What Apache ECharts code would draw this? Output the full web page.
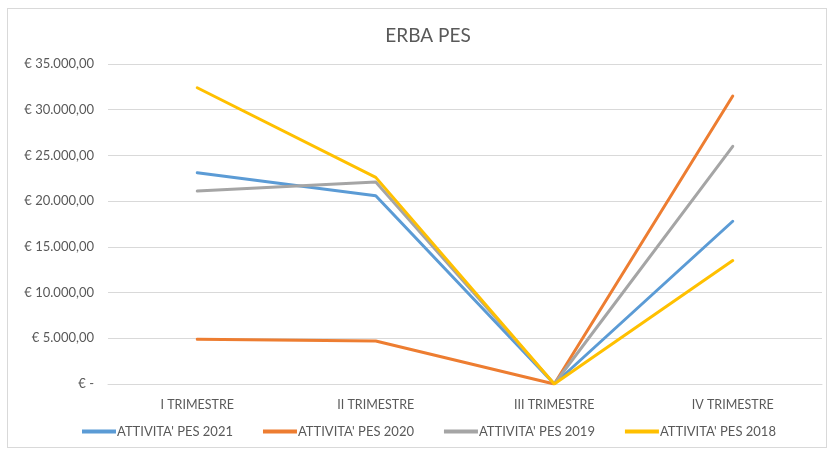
<!DOCTYPE html>
<html>
<head>
<meta charset="utf-8">
<script src="https://cdn.jsdelivr.net/npm/echarts@6/dist/echarts.min.js"></script>
<style>
  html, body { margin: 0; padding: 0; background: #fff; }
  #frame {
    position: absolute; left: 7px; top: 8px; width: 820px; height: 440px;
    border: 1px solid #d9d9d9; box-sizing: border-box;
  }
  #main { position: absolute; left: 0; top: 0; width: 830px; height: 452px; }
</style>
</head>
<body>
<div id="frame"></div>
<div id="main"></div>
<script>
const categories = ["I TRIMESTRE", "II TRIMESTRE", "III TRIMESTRE", "IV TRIMESTRE"];
const pes2021 = [23100, 20600, 0, 17800];
const pes2020 = [4900, 4700, 0, 31500];
const pes2019 = [21100, 22100, 0, 26000];
const pes2018 = [32400, 22600, 0, 13500];
const seriesNames = ["ATTIVITA' PES 2021", "ATTIVITA' PES 2020", "ATTIVITA' PES 2019", "ATTIVITA' PES 2018"];
const colors = ["#5B9BD5", "#ED7D31", "#A5A5A5", "#FFC000"];

function euro(v) {
  if (v === 0) return "€ -";
  const s = Math.round(v).toString().replace(/\B(?=(\d{3})+(?!\d))/g, ".");
  return "€ " + s + ",00";
}

const myChart = echarts.init(document.getElementById("main"));
const font = "Lato, 'Open Sans', sans-serif";
const option = {
  backgroundColor: "transparent",
  animation: false,
  title: {
    text: "ERBA PES",
    left: 423,
    textAlign: "center",
    top: 21,
    textStyle: { color: "#595959", fontSize: 19, fontWeight: "normal", fontFamily: font },
  },
  grid: { left: 108, right: 8, top: 64, bottom: 68 },
  legend: {
    bottom: 9,
    left: 77,
    itemGap: 30,
    itemWidth: 34,
    itemHeight: 4,
    icon: "rect",
    data: seriesNames,
    textStyle: { color: "#595959", fontSize: 13, fontFamily: font, padding: [0, 0, 0, -4] },
  },
  xAxis: {
    type: "category",
    data: categories,
    axisLine: { lineStyle: { color: "#d9d9d9" } },
    axisTick: { show: false },
    axisLabel: { color: "#595959", fontSize: 12.5, fontFamily: font, margin: 14 },
  },
  yAxis: {
    type: "value",
    min: 0,
    max: 35000,
    interval: 5000,
    axisLine: { show: false },
    axisTick: { show: false },
    splitLine: { lineStyle: { color: "#d9d9d9" } },
    axisLabel: { color: "#595959", fontSize: 13, fontFamily: font, margin: 14, formatter: euro },
  },
  series: [pes2021, pes2020, pes2019, pes2018].map((d, i) => ({
    name: seriesNames[i],
    type: "line",
    data: d,
    symbol: "none",
    lineStyle: { width: 3, color: colors[i], cap: "round" },
    itemStyle: { color: colors[i] },
  })),
};
myChart.setOption(option);
</script>
</body>
</html>
